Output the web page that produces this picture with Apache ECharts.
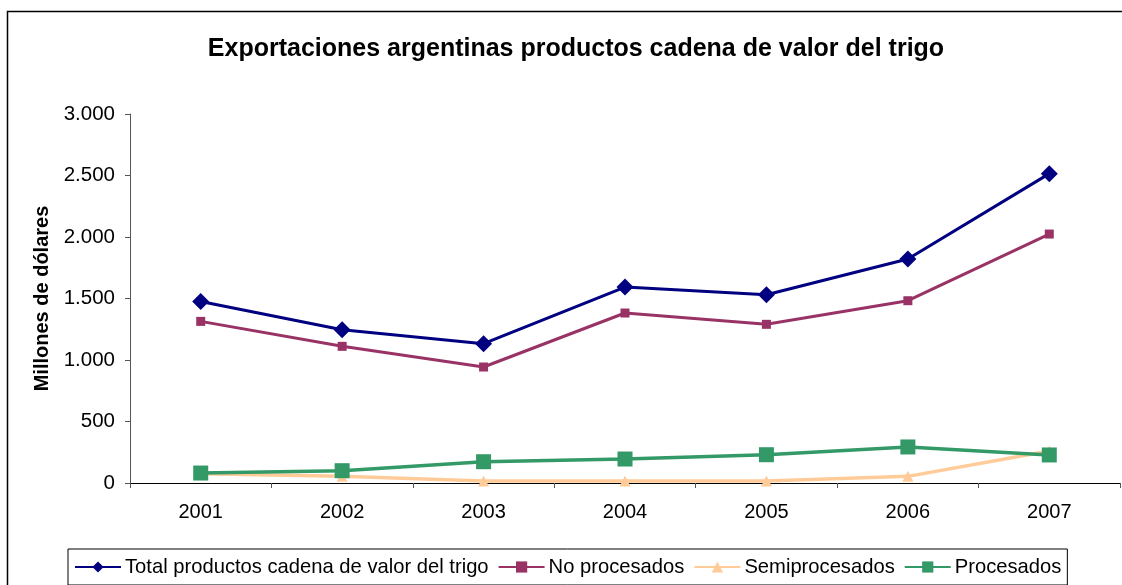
<!DOCTYPE html>
<html>
<head>
<meta charset="utf-8">
<script src="https://cdn.jsdelivr.net/npm/echarts@6/dist/echarts.min.js"></script>
<style>
  html, body { margin: 0; padding: 0; background: #fff; }
  #chart { width: 1122px; height: 585px; }
</style>
</head>
<body>
<div id="chart"></div>
<script>
// años
const years = ["2001", "2002", "2003", "2004", "2005", "2006", "2007"];
// millones de dólares
const total = [1476, 1246, 1133, 1593, 1531, 1821, 2515];
const noProcesados = [1314, 1111, 943, 1382, 1290, 1482, 2024];
const semiprocesados = [75, 54, 16, 16, 17, 54, 260];
const procesados = [81, 100, 173, 195, 230, 293, 228];

const font = "Arial, 'Liberation Sans', sans-serif";

function fmtMiles(v) {
  return String(v).replace(/\B(?=(\d{3})+(?!\d))/g, ".");
}

let chart = echarts.init(document.getElementById("chart"));
let option = {
  animation: false,
  backgroundColor: "#fff",
  textStyle: { fontFamily: font },
  graphic: [
    {
      // marco exterior del gráfico
      type: "rect",
      shape: { x: 7.5, y: 11.5, width: 1130, height: 600 },
      style: { fill: "none", stroke: "#000", lineWidth: 1.5 },
      silent: true,
    },
  ],
  title: {
    text: "Exportaciones argentinas productos cadena de valor del trigo",
    left: 571,
    top: 32,
    textAlign: "center",
    textStyle: { fontFamily: font, fontSize: 25, fontWeight: "bold", color: "#000" },
  },
  legend: {
    left: 68,
    top: 549,
    padding: [8, 6, 8, 6],
    itemGap: 9,
    itemWidth: 46,
    itemHeight: 14,
    borderColor: "#000",
    borderWidth: 1,
    backgroundColor: "#fff",
    textStyle: { fontFamily: font, fontSize: 20.2, color: "#000", padding: [0, 0, 0, -1] },
    data: [
      "Total productos cadena de valor del trigo",
      "No procesados",
      "Semiprocesados",
      "Procesados",
    ],
  },
  grid: { left: 130, right: 2, top: 114, bottom: 102 },
  xAxis: {
    type: "category",
    boundaryGap: true,
    data: years,
    axisLine: { lineStyle: { color: "#000", width: 1 } },
    axisTick: { show: true, length: 5, lineStyle: { color: "#555" } },
    axisLabel: { fontFamily: font, fontSize: 20, color: "#000", margin: 19 },
  },
  yAxis: {
    type: "value",
    min: 0,
    max: 3000,
    interval: 500,
    name: "Millones de dólares",
    nameLocation: "middle",
    nameGap: 78,
    nameTextStyle: { fontFamily: font, fontSize: 20, fontWeight: "bold", color: "#000" },
    axisLine: { show: true, lineStyle: { color: "#555", width: 1 } },
    axisTick: { show: true, length: 5, lineStyle: { color: "#555" } },
    splitLine: { show: false },
    axisLabel: {
      fontFamily: font,
      fontSize: 20.5,
      color: "#000",
      margin: 15,
      formatter: fmtMiles,
    },
  },
  series: [
    {
      name: "Total productos cadena de valor del trigo",
      type: "line",
      data: total,
      symbol: "diamond",
      symbolSize: 17,
      lineStyle: { color: "#000080", width: 3 },
      itemStyle: { color: "#000080" },
    },
    {
      name: "No procesados",
      type: "line",
      data: noProcesados,
      symbol: "rect",
      symbolSize: 9,
      lineStyle: { color: "#993366", width: 3 },
      itemStyle: { color: "#993366" },
    },
    {
      name: "Semiprocesados",
      type: "line",
      data: semiprocesados,
      symbol: "triangle",
      symbolSize: 11,
      lineStyle: { color: "#FFCC99", width: 3.5 },
      itemStyle: { color: "#FFCC99" },
    },
    {
      name: "Procesados",
      type: "line",
      data: procesados,
      symbol: "rect",
      symbolSize: 15,
      lineStyle: { color: "#339966", width: 3.5 },
      itemStyle: { color: "#339966" },
    },
  ],
};
chart.setOption(option);
</script>
</body>
</html>
